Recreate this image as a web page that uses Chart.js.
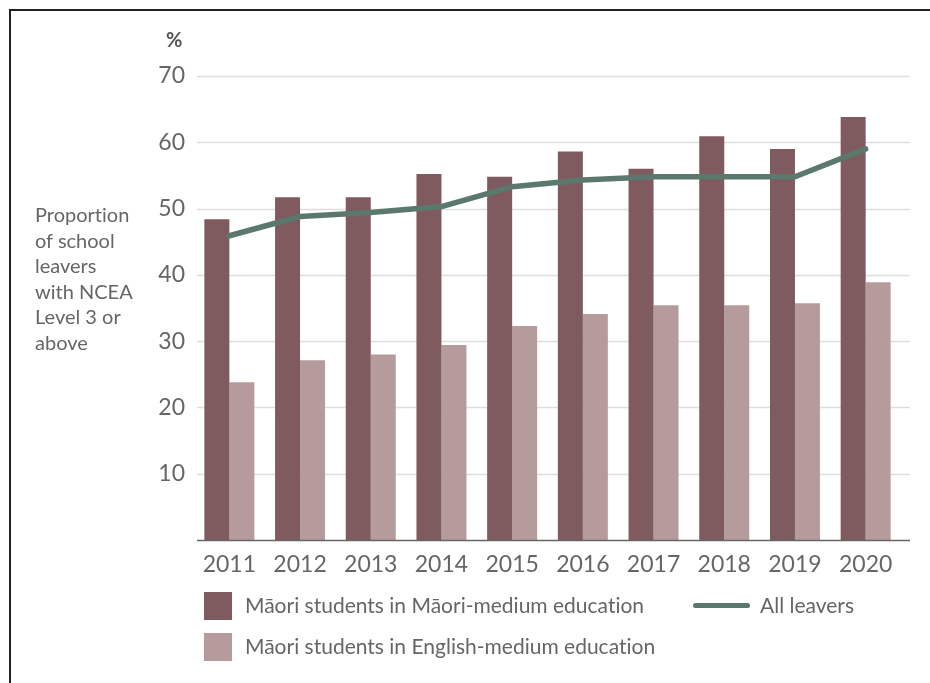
<!DOCTYPE html>
<html>
<head>
<meta charset="utf-8">
<script src="https://cdn.jsdelivr.net/npm/chart.js@4.4.1/dist/chart.umd.min.js"></script>
<style>
  html, body { margin: 0; padding: 0; background: #fff; }
  body { width: 930px; height: 683px; position: relative; overflow: hidden; font-family: Lato, "Open Sans", sans-serif; font-variant-ligatures: none; font-feature-settings: "liga" 0, "clig" 0; }
  #frame { position: absolute; left: 9px; top: 9px; width: 930px; height: 700px; border-top: 2px solid #222; border-left: 2px solid #222; box-sizing: border-box; }
  #c { position: absolute; left: 0; top: 0; }
  .txt { position: absolute; color: #666; white-space: nowrap; }
  #pct { left: 166px; top: 27px; font-size: 20px; font-weight: bold; color: #555; }
  #ytitle { left: 35px; top: 202px; font-size: 20px; line-height: 25.5px; white-space: normal; width: 125px; }
  .sw { position: absolute; width: 28px; height: 28px; }
  .leg { font-size: 21px; }
  #lline { position: absolute; left: 693px; top: 603px; width: 57px; height: 5px; background: #5b786d; border-radius: 3px; }
</style>
</head>
<body>
<div id="frame"></div>
<canvas id="c" width="930" height="683"></canvas>
<div class="txt" id="pct">%</div>
<div class="txt" id="ytitle">Proportion<br>of school<br>leavers<br>with NCEA<br>Level 3 or<br>above</div>
<div class="sw" style="left:204px;top:592px;background:#7f5a5e"></div>
<div class="txt leg" style="left:245px;top:592px">Māori students in Māori-medium education</div>
<div id="lline"></div>
<div class="txt leg" style="left:760px;top:592px">All leavers</div>
<div class="sw" style="left:204px;top:633px;background:#b59b9c"></div>
<div class="txt leg" style="left:245px;top:633px">Māori students in English-medium education</div>
<script>
const years = ["2011","2012","2013","2014","2015","2016","2017","2018","2019","2020"];
const maoriMedium = [48.4, 51.7, 51.7, 55.2, 54.8, 58.6, 56.0, 60.9, 59.0, 63.8];
const englishMedium = [23.8, 27.1, 28.0, 29.4, 32.3, 34.1, 35.4, 35.4, 35.7, 38.9];
const allLeavers = [45.9, 48.8, 49.4, 50.3, 53.3, 54.3, 54.8, 54.8, 54.8, 59.0];
const yTicks = [10, 20, 30, 40, 50, 60, 70];

const GRID_LEFT = 197, GRID_RIGHT = 910;
const wideGrid = {
  id: 'wideGrid',
  beforeDatasetsDraw(chart) {
    const ctx = chart.ctx, y = chart.scales.y;
    ctx.save();
    ctx.lineWidth = 1.5;
    ctx.strokeStyle = '#dedede';
    yTicks.forEach(v => {
      const py = Math.round(y.getPixelForValue(v)) + 0.5;
      ctx.beginPath(); ctx.moveTo(GRID_LEFT, py); ctx.lineTo(GRID_RIGHT, py); ctx.stroke();
    });
    ctx.restore();
  },
  afterDatasetsDraw(chart) {
    const ctx = chart.ctx, y = chart.scales.y;
    ctx.save();
    ctx.lineWidth = 1.5;
    ctx.strokeStyle = '#666';
    const py = Math.round(y.getPixelForValue(0)) + 0.5;
    ctx.beginPath(); ctx.moveTo(GRID_LEFT, py); ctx.lineTo(GRID_RIGHT, py); ctx.stroke();
    ctx.restore();
  }
};

new Chart(document.getElementById('c'), {
  type: 'bar',
  data: {
    labels: years,
    datasets: [
      { type: 'line', label: 'All leavers', data: allLeavers, borderColor: '#5b786d', borderWidth: 5.5,
        pointRadius: 0, tension: 0, fill: false, order: 0, borderCapStyle: 'round', borderJoinStyle: 'round' },
      { label: 'Māori students in Māori-medium education', data: maoriMedium, backgroundColor: '#7f5a5e',
        categoryPercentage: 0.707, barPercentage: 1.0, order: 1 },
      { label: 'Māori students in English-medium education', data: englishMedium, backgroundColor: '#b59b9c',
        categoryPercentage: 0.707, barPercentage: 1.0, order: 1 }
    ]
  },
  plugins: [wideGrid],
  options: {
    responsive: false,
    animation: false,
    layout: { padding: { top: 76, left: 0, right: 29, bottom: 0 } },
    plugins: { legend: { display: false }, tooltip: { enabled: false } },
    scales: {
      x: {
        grid: { display: false, drawTicks: false },
        border: { display: false },
        ticks: { color: '#666', font: { family: 'Lato', size: 23 }, padding: 11, maxRotation: 0 },
        afterFit: s => { s.height = 143; }
      },
      y: {
        min: 0, max: 70,
        afterBuildTicks: s => { s.ticks = [0].concat(yTicks).map(v => ({ value: v })); },
        grid: { display: false, drawTicks: false },
        border: { display: false },
        ticks: { color: '#666', font: { family: 'Lato', size: 23 }, padding: 9,
                 callback: v => v === 0 ? '' : String(v) },
        afterFit: s => { s.width = 194; }
      }
    }
  }
});
</script>
</body>
</html>
